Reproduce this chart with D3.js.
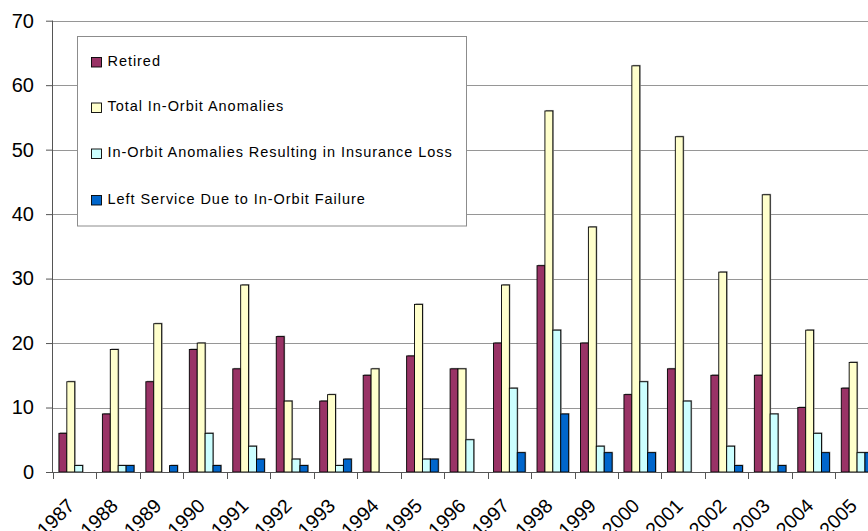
<!DOCTYPE html>
<html><head><meta charset="utf-8">
<script src="https://cdn.jsdelivr.net/npm/d3@7"></script>
<style>body{margin:0;background:#fff}svg{display:block}</style>
</head><body><svg id="c" width="868" height="531"></svg>
<script>
const years = ["1987","1988","1989","1990","1991","1992","1993","1994","1995","1996","1997","1998","1999","2000","2001","2002","2003","2004","2005"];
const seriesNames = ["Retired","Total In-Orbit Anomalies","In-Orbit Anomalies Resulting in Insurance Loss","Left Service Due to In-Orbit Failure"];
const retired = [6,9,14,19,16,21,11,15,18,16,20,32,20,12,16,15,15,10,13];
const totalAnomalies = [14,19,23,20,29,11,12,16,26,16,29,56,38,63,52,31,43,22,17];
const insuranceLoss = [1,1,0,6,4,2,1,0,2,5,13,22,4,14,11,4,9,6,3];
const leftService = [0,1,1,1,2,1,2,0,2,0,3,9,3,3,0,1,1,3,3];
const yTicks = [0,10,20,30,40,50,60,70];
const colors = ["#993366","#FFFFCC","#CCFFFF","#0066CC"];
const seriesValues = [retired,totalAnomalies,insuranceLoss,leftService];

const svg = d3.select("#c");
const pL = 53, pR = 878.8, pT = 20.7, pB = 472;
const x = d3.scaleBand().domain(years).range([pL,pR]).paddingInner(0).paddingOuter(0);
const y = d3.scaleLinear().domain([0,70]).range([pB,pT]);
const bw = x.bandwidth()/5.5;

// gridlines
svg.append("g").selectAll("line").data(yTicks.filter(d=>d>0)).join("line")
  .attr("x1",pL).attr("x2",868).attr("y1",d=>Math.round(y(d))+0.5).attr("y2",d=>Math.round(y(d))+0.5)
  .attr("stroke","#969696").attr("stroke-width",1);

// bars
const rows = [];
years.forEach((yr,i)=>seriesValues.forEach((s,j)=>rows.push({yr,j,v:s[i]})));
const g = svg.append("g");
g.selectAll("rect.sh").data(rows.filter(d=>d.v>0)).join("rect").attr("class","sh")
  .attr("x",d=>x(d.yr)+bw*0.75+d.j*bw+1).attr("y",d=>y(d.v)-1)
  .attr("width",bw).attr("height",d=>pB-y(d.v)+1)
  .attr("fill","#9a9a9a");
g.selectAll("rect.b").data(rows.filter(d=>d.v>0)).join("rect").attr("class","b")
  .attr("x",d=>x(d.yr)+bw*0.75+d.j*bw).attr("y",d=>y(d.v))
  .attr("width",bw).attr("height",d=>pB-y(d.v))
  .attr("fill",d=>colors[d.j]).attr("stroke","#000").attr("stroke-width",0.9);

// y axis
const ya = svg.append("g").attr("transform",`translate(${pL},0)`)
  .call(d3.axisLeft(y).tickValues(yTicks).tickSize(7).tickPadding(12));
ya.select(".domain").attr("stroke","#555").attr("d",`M-0.5,${pB}V${pT}`);
ya.selectAll(".tick line").attr("stroke","#555");
ya.selectAll("text").attr("font-family","Liberation Sans, Arial, sans-serif").attr("font-size","20px").attr("fill","#000");

// x axis
const xa = svg.append("g").attr("transform",`translate(0,${pB})`);
xa.append("line").attr("x1",pL-7).attr("x2",868).attr("y1",0.5).attr("y2",0.5).attr("stroke","#555");
xa.selectAll("line.t").data(years.concat(["end"])).join("line").attr("class","t")
  .attr("x1",(d,i)=>Math.round(pL+i*x.bandwidth())+0.5).attr("x2",(d,i)=>Math.round(pL+i*x.bandwidth())+0.5)
  .attr("y1",0).attr("y2",7).attr("stroke","#555");
xa.selectAll("text").data(years).join("text")
  .attr("transform",d=>`translate(${x(d)+x.bandwidth()/2+1},35) rotate(-45)`)
  .attr("text-anchor","end")
  .attr("font-family","Liberation Sans, Arial, sans-serif").attr("font-size","19.5px")
  .text(d=>d);

// legend
const lg = svg.append("g");
lg.append("rect").attr("x",77.5).attr("y",36.5).attr("width",389).attr("height",189.5)
  .attr("fill","#fff").attr("stroke","#8c8c8c");
const ly = [62,107.5,153.5,200];
seriesNames.forEach((n,i)=>{
  lg.append("rect").attr("x",91.5).attr("y",ly[i]-4.5).attr("width",10).attr("height",9.5)
    .attr("fill",colors[i]).attr("stroke","#000").attr("stroke-width",0.9);
  lg.append("text").attr("x",107.5).attr("y",ly[i]+3.5)
    .attr("font-family","Liberation Sans, Arial, sans-serif").attr("font-size","14.5px")
    .attr("letter-spacing","0.95px").text(n);
});
</script></body></html>
